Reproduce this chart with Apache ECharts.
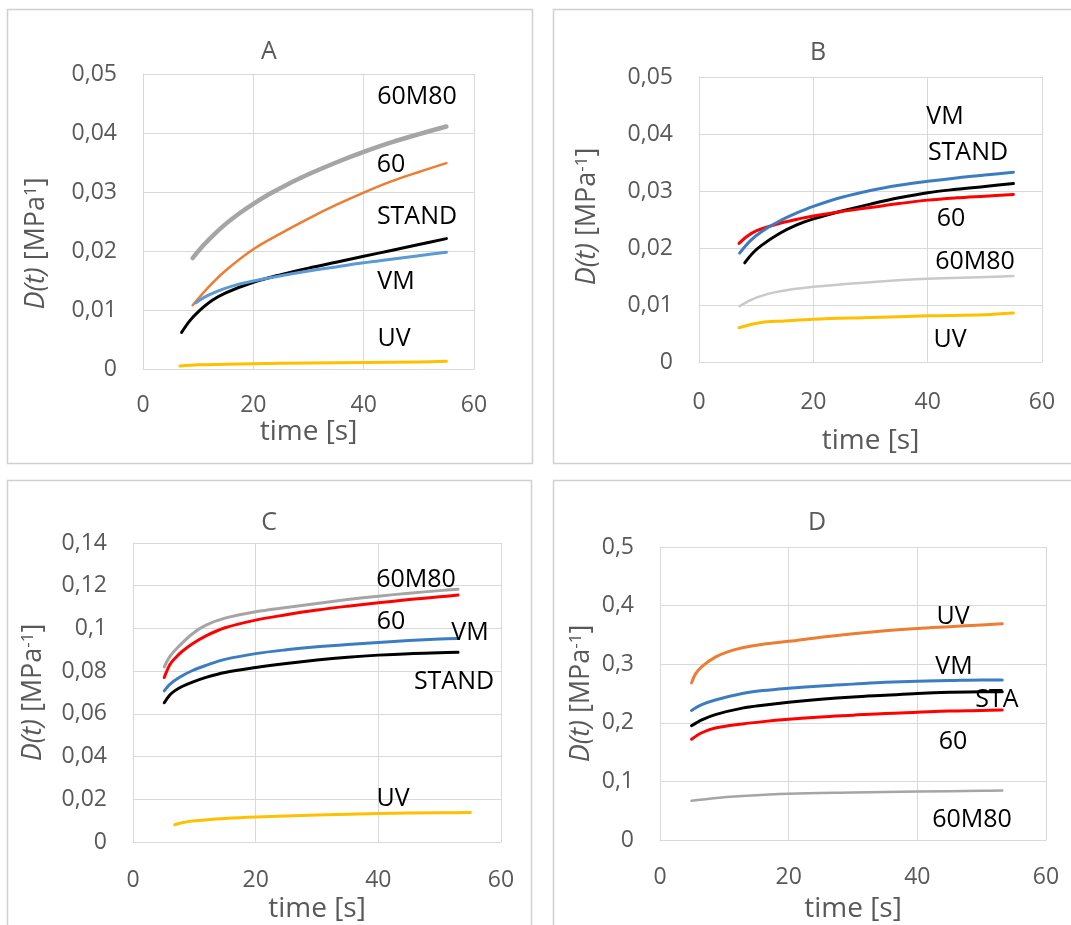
<!DOCTYPE html>
<html>
<head>
<meta charset="utf-8">
<script src="https://cdn.jsdelivr.net/npm/echarts@6/dist/echarts.min.js"></script>
<style>
html,body{margin:0;padding:0;background:#fff;}
#chart{width:1071px;height:925px;}
</style>
</head>
<body>
<div id="chart"></div>
<script>
// ---------- DATA ----------
const panelTitles = ['A', 'B', 'C', 'D'];
const xTicks = [0, 20, 40, 60];
const yMaxA = 0.05, yMaxB = 0.05, yMaxC = 0.14, yMaxD = 0.5;
const yStepA = 0.01, yStepB = 0.01, yStepC = 0.02, yStepD = 0.1;

// Panel A
const A_60M80_t = [9, 11, 13, 15, 17.5, 20, 23, 26, 30, 35, 40, 45, 50, 55];
const A_60M80_v = [0.0188, 0.0210, 0.0229, 0.0246, 0.0264, 0.0280, 0.0297, 0.0312, 0.0330, 0.0350, 0.0368, 0.0384, 0.0398, 0.0411];
const A_60_t = [9, 12, 15, 20, 25, 30, 35, 40, 45, 50, 55];
const A_60_v = [0.0108, 0.0140, 0.0167, 0.0203, 0.0230, 0.0255, 0.0278, 0.0299, 0.0318, 0.0334, 0.0349];
const A_STAND_t = [7, 8.5, 10, 12.5, 15, 20, 25, 30, 35, 40, 45, 50, 55];
const A_STAND_v = [0.0062, 0.0082, 0.0097, 0.0116, 0.0129, 0.0147, 0.0160, 0.0171, 0.0181, 0.0191, 0.0201, 0.0211, 0.0221];
const A_VM_t = [9.6, 11, 13, 16, 20, 25, 30, 35, 40, 45, 50, 55];
const A_VM_v = [0.0112, 0.0121, 0.0130, 0.0140, 0.0149, 0.0158, 0.0166, 0.0173, 0.0180, 0.0186, 0.0192, 0.0198];
const A_UV_t = [6.7, 10, 15, 20, 30, 40, 50, 55];
const A_UV_v = [0.0005, 0.0007, 0.0008, 0.0009, 0.0010, 0.0011, 0.0012, 0.0013];

// Panel B
const B_VM_t = [7.1, 9, 11, 14, 17, 20, 25, 30, 35, 40, 45, 50, 55];
const B_VM_v = [0.0191, 0.0213, 0.0229, 0.0247, 0.0261, 0.0273, 0.0289, 0.0301, 0.0310, 0.0317, 0.0323, 0.0328, 0.0333];
const B_STAND_t = [8, 9.5, 11, 14, 17, 20, 25, 30, 35, 40, 45, 50, 55];
const B_STAND_v = [0.0174, 0.0192, 0.0205, 0.0225, 0.0240, 0.0251, 0.0265, 0.0277, 0.0288, 0.0297, 0.0303, 0.0308, 0.0313];
const B_60_t = [7, 8.5, 10, 14, 17, 20, 25, 30, 35, 40, 45, 50, 55];
const B_60_v = [0.0208, 0.0221, 0.0230, 0.0243, 0.0250, 0.0256, 0.0264, 0.0271, 0.0278, 0.0284, 0.0288, 0.0291, 0.0294];
const B_60M80_t = [7.1, 10, 13.6, 20, 30, 40, 50, 55];
const B_60M80_v = [0.0098, 0.0113, 0.0123, 0.0132, 0.0140, 0.0146, 0.0149, 0.0151];
const B_UV_t = [7, 10.6, 15, 20, 30, 40, 50, 55];
const B_UV_v = [0.0060, 0.0069, 0.0072, 0.0075, 0.0078, 0.0081, 0.0083, 0.0086];

// Panel C
const C_60M80_t = [5.1, 6, 7.4, 9.7, 11.9, 15, 20, 25, 30, 35, 40, 45, 50, 53];
const C_60M80_v = [0.0820, 0.0868, 0.0914, 0.0975, 0.1015, 0.1048, 0.1078, 0.1098, 0.1117, 0.1135, 0.1151, 0.1165, 0.1177, 0.1184];
const C_60_t = [5.1, 6, 6.9, 8, 9.7, 11.9, 15, 20, 25, 30, 35, 40, 45, 50, 53];
const C_60_v = [0.0770, 0.0830, 0.0862, 0.0892, 0.0928, 0.0965, 0.1003, 0.1039, 0.1064, 0.1086, 0.1104, 0.1120, 0.1135, 0.1148, 0.1156];
const C_VM_t = [5.1, 6, 7.4, 9.7, 11.9, 15, 20, 25, 30, 35, 40, 45, 50, 53];
const C_VM_v = [0.0708, 0.0738, 0.0768, 0.0803, 0.0827, 0.0855, 0.0882, 0.0900, 0.0914, 0.0925, 0.0934, 0.0943, 0.0950, 0.0953];
const C_STAND_t = [5.1, 6, 6.9, 8, 9.7, 11.9, 15, 20, 25, 30, 35, 40, 45, 50, 53];
const C_STAND_v = [0.0652, 0.0688, 0.0710, 0.0728, 0.0749, 0.0771, 0.0794, 0.0817, 0.0836, 0.0852, 0.0865, 0.0875, 0.0882, 0.0886, 0.0888];
const C_UV_t = [6.8, 8, 9.7, 15, 20, 30, 40, 50, 55];
const C_UV_v = [0.0081, 0.0090, 0.0098, 0.0110, 0.0117, 0.0126, 0.0133, 0.0137, 0.0138];

// Panel D
const D_UV_t = [4.9, 5.5, 6.5, 8.6, 10.5, 12.8, 16, 20, 25, 30, 35, 40, 45, 50, 53.2];
const D_UV_v = [0.268, 0.283, 0.296, 0.312, 0.321, 0.328, 0.334, 0.339, 0.346, 0.352, 0.357, 0.361, 0.364, 0.367, 0.369];
const D_VM_t = [4.9, 6.5, 8.6, 12.8, 16, 20, 25, 30, 35, 40, 45, 50, 53.2];
const D_VM_v = [0.221, 0.231, 0.239, 0.250, 0.255, 0.259, 0.263, 0.266, 0.269, 0.271, 0.272, 0.273, 0.273];
const D_STAND_t = [4.9, 6.5, 8.6, 12.8, 16, 20, 25, 30, 35, 40, 45, 50, 53.2];
const D_STAND_v = [0.195, 0.205, 0.214, 0.225, 0.230, 0.235, 0.240, 0.244, 0.247, 0.250, 0.252, 0.253, 0.253];
const D_60_t = [4.9, 6.5, 8.6, 12.8, 16, 20, 25, 30, 35, 40, 45, 50, 53.2];
const D_60_v = [0.172, 0.183, 0.191, 0.198, 0.202, 0.206, 0.210, 0.213, 0.216, 0.218, 0.220, 0.221, 0.222];
const D_60M80_t = [4.9, 8, 12.8, 20, 30, 40, 50, 53.2];
const D_60M80_v = [0.067, 0.071, 0.075, 0.0790, 0.081, 0.0826, 0.084, 0.0843];

// ---------- STYLE / LAYOUT ----------
const FONT = "'Open Sans', 'Noto Sans', sans-serif";
const AXIS_GRAY = '#595959';
const GRID_GRAY = '#d9d9d9';
const C_ORANGE = '#ED7D31', C_GRAY = '#A5A5A5', C_LGRAY = '#C9C9C9', C_YELLOW = '#FFC000',
      C_LBLUE = '#5B9BD5', C_BLUE = '#3C7DC2', C_RED = '#FF0000', C_BLACK = '#000000';

const zip = (t, v) => t.map((x, i) => [x, v[i]]);

const grids = [
  {left: 143, top: 74, width: 331, height: 295},
  {left: 699, top: 77, width: 343, height: 285},
  {left: 133, top: 543, width: 368, height: 299},
  {left: 660, top: 547, width: 386, height: 293}
];
const xLabelMargin = [25, 29, 27, 26];
const xNameGap = [48, 65, 53, 55];
const yNameGap = [93, 98, 86, 65];
const yNamePad = [[0, 44, 0, 0], [0, 0, 0, 6], [0, 0, 0, 0], [0, 0, 0, 0]];
const yMaxes = [yMaxA, yMaxB, yMaxC, yMaxD];
const ySteps = [yStepA, yStepB, yStepC, yStepD];

const fmt = v => v === 0 ? '0' : String(+v.toFixed(4)).replace('.', ',');

const xAxes = grids.map((g, i) => ({
  gridIndex: i, type: 'value', min: xTicks[0], max: xTicks[xTicks.length - 1], interval: xTicks[1] - xTicks[0],
  name: 'time [s]', nameLocation: 'middle', nameGap: xNameGap[i],
  nameTextStyle: {fontFamily: FONT, fontSize: 28, color: AXIS_GRAY},
  axisLine: {show: true, lineStyle: {color: GRID_GRAY, width: 1}},
  axisTick: {show: false},
  axisLabel: {fontFamily: FONT, fontSize: 23, color: AXIS_GRAY, margin: xLabelMargin[i], formatter: fmt},
  splitLine: {show: true, lineStyle: {color: GRID_GRAY, width: 1}}
}));

const yAxes = grids.map((g, i) => ({
  gridIndex: i, type: 'value', min: 0, max: yMaxes[i], interval: ySteps[i],
  name: i === 0 ? '{i|D(t)} [MPa{s|1}]' : '{i|D(t)} [MPa{s|-1}]',
  nameLocation: 'middle', nameRotate: 90, nameGap: yNameGap[i],
  nameTextStyle: {
    fontFamily: FONT, fontSize: 27, color: AXIS_GRAY, padding: yNamePad[i],
    rich: {
      i: {fontFamily: FONT, fontSize: 27, fontStyle: 'italic', color: AXIS_GRAY},
      s: {fontFamily: FONT, fontSize: 17, color: AXIS_GRAY, verticalAlign: 'top'}
    }
  },
  axisLine: {show: true, lineStyle: {color: GRID_GRAY, width: 1}},
  axisTick: {show: false},
  axisLabel: {fontFamily: FONT, fontSize: 23, color: AXIS_GRAY, margin: 26, formatter: fmt},
  splitLine: {show: true, lineStyle: {color: GRID_GRAY, width: 1}}
}));

function line(name, idx, t, v, color, width) {
  return {
    name: name, type: 'line', xAxisIndex: idx, yAxisIndex: idx,
    data: zip(t, v), smooth: 0.35, showSymbol: false, symbol: 'none',
    lineStyle: {color: color, width: width, cap: 'round', join: 'round'}, itemStyle: {color: color},
    silent: true, z: 3
  };
}

const series = [
  line('60M80', 0, A_60M80_t, A_60M80_v, C_GRAY, 4.5),
  line('60', 0, A_60_t, A_60_v, C_ORANGE, 2.5),
  line('STAND', 0, A_STAND_t, A_STAND_v, C_BLACK, 3),
  line('VM', 0, A_VM_t, A_VM_v, C_LBLUE, 3),
  line('UV', 0, A_UV_t, A_UV_v, C_YELLOW, 3),

  line('60M80', 1, B_60M80_t, B_60M80_v, C_LGRAY, 2.5),
  line('UV', 1, B_UV_t, B_UV_v, C_YELLOW, 3),
  line('STAND', 1, B_STAND_t, B_STAND_v, C_BLACK, 3),
  line('60', 1, B_60_t, B_60_v, C_RED, 3),
  line('VM', 1, B_VM_t, B_VM_v, C_BLUE, 3),

  line('60M80', 2, C_60M80_t, C_60M80_v, C_GRAY, 3),
  line('60', 2, C_60_t, C_60_v, C_RED, 3),
  line('VM', 2, C_VM_t, C_VM_v, C_BLUE, 3),
  line('STAND', 2, C_STAND_t, C_STAND_v, C_BLACK, 3),
  line('UV', 2, C_UV_t, C_UV_v, C_YELLOW, 3),

  line('UV', 3, D_UV_t, D_UV_v, C_ORANGE, 3),
  line('VM', 3, D_VM_t, D_VM_v, C_BLUE, 3),
  line('STAND', 3, D_STAND_t, D_STAND_v, C_BLACK, 3),
  line('60', 3, D_60_t, D_60_v, C_RED, 3),
  line('60M80', 3, D_60M80_t, D_60M80_v, C_GRAY, 2.5)
];

// panel frames, titles and curve labels
const frames = [
  {x: 7, y: 9, w: 525, h: 454},
  {x: 553, y: 9, w: 540, h: 454},
  {x: 7, y: 480, w: 524, h: 460},
  {x: 553, y: 480, w: 540, h: 460}
];
const titlePos = [[269, 52], [818, 53], [269, 523], [817, 523]];
const curveLabels = [
  ['60M80', 417, 97], ['60', 391, 165], ['STAND', 417, 217], ['VM', 396, 282], ['UV', 394, 339],
  ['VM', 945, 117], ['STAND', 968, 153], ['60', 951, 219], ['60M80', 975, 262], ['UV', 950, 340],
  ['60M80', 416, 580], ['60', 391, 622], ['VM', 470, 633], ['STAND', 454, 682], ['UV', 393, 799],
  ['UV', 953, 617], ['VM', 954, 667], ['STA', 997, 700], ['60', 953, 742], ['60M80', 972, 820]
];

const graphic = [];
frames.forEach(f => graphic.push({
  type: 'rect', z: 0, silent: true,
  shape: {x: f.x + 0.5, y: f.y + 0.5, width: f.w, height: f.h},
  style: {fill: '#ffffff', stroke: '#d0d0d0', lineWidth: 1.5}
}));
panelTitles.forEach((t, i) => graphic.push({
  type: 'text', z: 50, silent: true, x: titlePos[i][0], y: titlePos[i][1],
  style: {text: t, font: '25px ' + FONT, fill: AXIS_GRAY, align: 'center', verticalAlign: 'middle'}
}));
curveLabels.forEach(l => graphic.push({
  type: 'text', z: 50, silent: true, x: l[1], y: l[2],
  style: {text: l[0], font: '25px ' + FONT, fill: '#000000', align: 'center', verticalAlign: 'middle'}
}));

const chart = echarts.init(document.getElementById('chart'), null, {renderer: 'canvas'});
chart.setOption({
  animation: false,
  backgroundColor: '#ffffff',
  grid: grids.map(g => Object.assign({containLabel: false}, g)),
  xAxis: xAxes,
  yAxis: yAxes,
  series: series,
  graphic: graphic
});
</script>
</body>
</html>
